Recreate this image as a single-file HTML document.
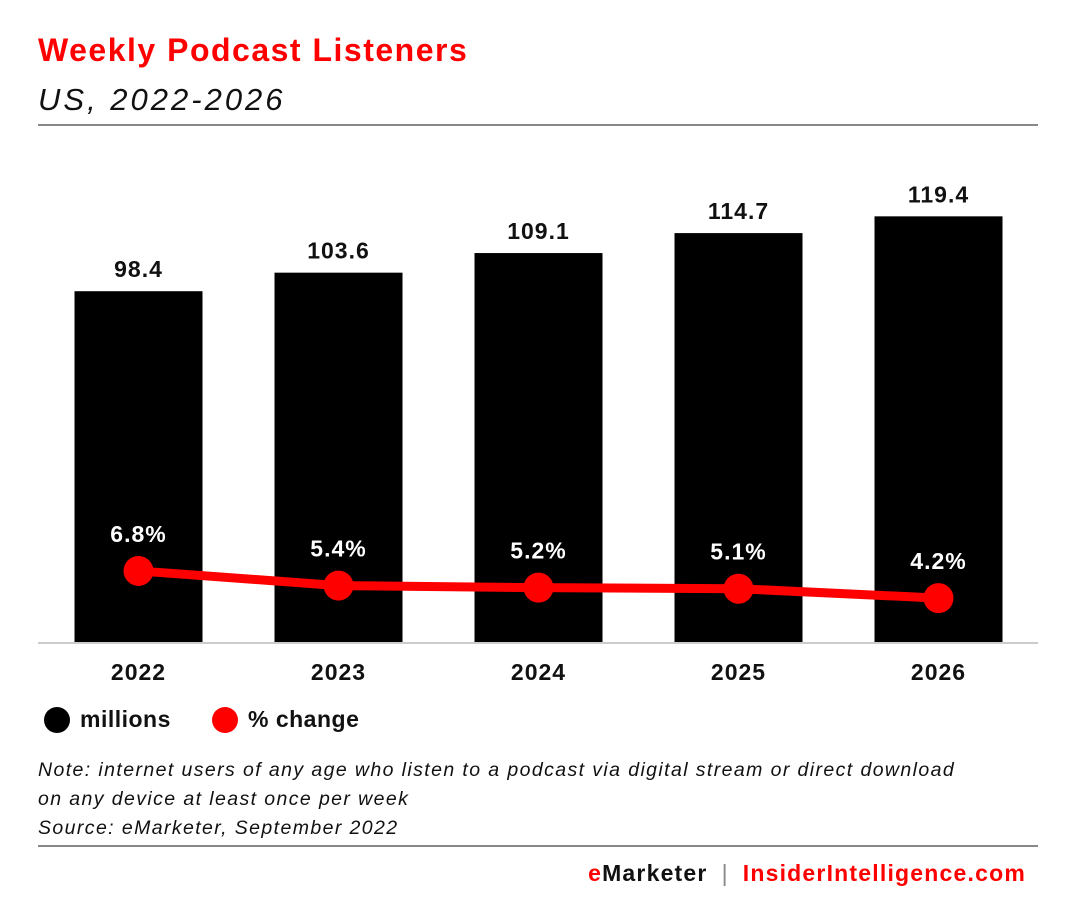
<!DOCTYPE html>
<html><head><meta charset="utf-8"><style>
body{margin:0;background:#fff;font-family:"Liberation Sans",Arial,sans-serif;}
#wrap{position:relative;width:1080px;height:920px;overflow:hidden}
.t{position:absolute;white-space:nowrap}
</style></head><body><div id="wrap">
<div class="t" style="left:38px;top:32px;font-size:32px;font-weight:bold;color:#f00;letter-spacing:1.5px">Weekly Podcast Listeners</div>
<div class="t" style="left:38px;top:82px;font-size:31px;font-style:italic;color:#111;letter-spacing:3px">US, 2022-2026</div>
<div class="t" style="left:38px;top:124px;width:1000px;height:2px;background:#888"></div>
<svg id="chart" width="1080" height="920" style="position:absolute;left:0;top:0"></svg>
<div class="t" style="left:44px;top:706px;font-size:23px;font-weight:bold;color:#111;letter-spacing:0.5px"><span style="display:inline-block;width:26px;height:26px;border-radius:50%;background:#000;vertical-align:-6px;margin-right:10px"></span>millions</div>
<div class="t" style="left:212px;top:706px;font-size:23px;font-weight:bold;color:#111;letter-spacing:0.5px"><span style="display:inline-block;width:26px;height:26px;border-radius:50%;background:#f00;vertical-align:-6px;margin-right:10px"></span>% change</div>
<div class="t" style="left:38px;top:756px;font-size:19.5px;font-style:italic;line-height:29px;color:#111;letter-spacing:1.4px">Note: internet users of any age who listen to a podcast via digital stream or direct download<br>on any device at least once per week<br>Source: eMarketer, September 2022</div>
<div class="t" style="left:38px;top:845px;width:1000px;height:2px;background:#888"></div>
<div class="t" style="right:54px;top:860px;font-size:23px;font-weight:bold;letter-spacing:1.2px"><span style="color:#f00">e</span><span style="color:#111">Marketer</span><span style="color:#888;font-weight:normal;margin:0 14px">|</span><span style="color:#f00">InsiderIntelligence.com</span></div>
</div>
<script>
const categories=["2022","2023","2024","2025","2026"];
const millions=[98.4,103.6,109.1,114.7,119.4];
const pctChange=[6.8,5.4,5.2,5.1,4.2];
const NS="http://www.w3.org/2000/svg";
const svg=document.getElementById('chart');
const base=642;
const xc=i=>138.5+i*200;
const yBar=v=>base-v*3.565;
const yPct=v=>base-v*10.45;
function mk(t,a){const e=document.createElementNS(NS,t);for(const k in a)e.setAttribute(k,a[k]);svg.appendChild(e);return e;}
categories.forEach((c,i)=>{
 const r=mk('rect',{x:xc(i)-64,y:yBar(millions[i]),width:128,height:base-yBar(millions[i]),fill:'#000'});
 
 
 const l=mk('text',{x:xc(i),y:yBar(millions[i])-14,'text-anchor':'middle','font-size':23,'font-weight':'bold',fill:'#111','font-family':'Liberation Sans, sans-serif','letter-spacing':1});
 l.textContent=millions[i].toFixed(1);
 
 
 const x=mk('text',{x:xc(i),y:680,'text-anchor':'middle','font-size':23,'font-weight':'bold',fill:'#111','font-family':'Liberation Sans, sans-serif','letter-spacing':1});
 x.textContent=c;
 
 
});
const ax=mk('line',{x1:38,x2:1038,y1:base+1,y2:base+1,stroke:'#ccc','stroke-width':2});


const pl=mk('polyline',{points:pctChange.map((v,i)=>xc(i)+','+yPct(v)).join(' '),fill:'none',stroke:'#f00','stroke-width':9});


pctChange.forEach((v,i)=>{
 const c=mk('circle',{cx:xc(i),cy:yPct(v),r:15,fill:'#f00'});
 
 
 const t=mk('text',{x:xc(i),y:yPct(v)-29,'text-anchor':'middle','font-size':23,'font-weight':'bold',fill:'#fff','font-family':'Liberation Sans, sans-serif','letter-spacing':1});
 t.textContent=v.toFixed(1)+'%';
 
 
});
</script></body></html>
